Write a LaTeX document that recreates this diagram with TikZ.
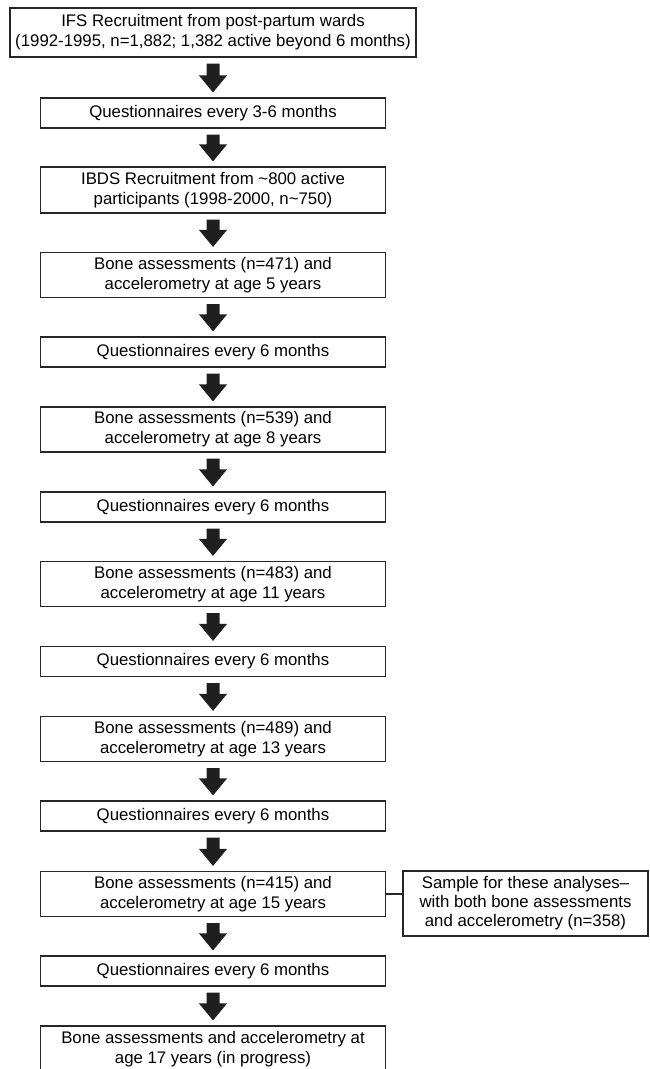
\documentclass[tikz,border=0pt]{standalone}
\usepackage{fontspec}
\setmainfont{Liberation Sans}
\usetikzlibrary{calc}

\begin{document}
\begin{tikzpicture}[x=1pt,y=1pt,
    box/.style={draw=black!85,line width=1.1pt,inner sep=0pt,align=center,minimum width=345pt,minimum height=45pt,font=\fontsize{16.8}{20}\selectfont},
    onebox/.style={box,minimum height=30pt},
    bigarrow/.style={fill=black!88}]
    \useasboundingbox (0,0) rectangle (649,-1069);
    \node[box,minimum width=406pt,minimum height=49pt] (top) at (213,-32.5) {IFS Recruitment from post-partum wards\\(1992-1995, n=1,882; 1,382 active beyond 6 months)};
    \node[onebox] (q1) at (213,-113) {Questionnaires every 3-6 months};
    \node[box,minimum height=46pt] (ibds) at (213,-190) {IBDS Recruitment from \textasciitilde800 active\\participants (1998-2000, n\textasciitilde750)};
    \node[box] (b5) at (213,-275) {Bone assessments (n=471) and\\accelerometry at age 5 years};
    \node[onebox] (q2) at (213,-352) {Questionnaires every 6 months};
    \node[box] (b8) at (213,-429.5) {Bone assessments (n=539) and\\accelerometry at age 8 years};
    \node[onebox] (q3) at (213,-507) {Questionnaires every 6 months};
    \node[box] (b11) at (213,-584) {Bone assessments (n=483) and\\accelerometry at age 11 years};
    \node[onebox] (q4) at (213,-661.5) {Questionnaires every 6 months};
    \node[box] (b13) at (213,-739) {Bone assessments (n=489) and\\accelerometry at age 13 years};
    \node[onebox] (q5) at (213,-816) {Questionnaires every 6 months};
    \node[box] (b15) at (213,-894) {Bone assessments (n=415) and\\accelerometry at age 15 years};
    \node[onebox] (q6) at (213,-971) {Questionnaires every 6 months};
    \node[box,minimum height=46pt] (b17) at (213,-1049) {Bone assessments and accelerometry at\\age 17 years (in progress)};
    \node[box,minimum width=245pt,minimum height=65pt,font=\fontsize{16.8}{19}\selectfont] (side) at (525.5,-903.5) {Sample for these analyses--\\with both bone assessments\\and accelerometry (n=358)};
    % block arrows from box to box
    \foreach \a/\b in {top/q1,q1/ibds,ibds/b5,b5/q2,q2/b8,b8/q3,q3/b11,b11/q4,q4/b13,b13/q5,q5/b15,b15/q6,q6/b17}
        \fill[bigarrow] ($(\a.south)+(-6.5,-6)$) -- ++(13,0) -- ($(\b.north)+(6.5,22)$) -- ++(7.5,0)
            -- ($(\b.north)+(0,5)$) -- ($(\b.north)+(-14,22)$) -- ++(7.5,0) -- cycle;
    \draw[black!85,line width=1.1pt] (b15.east) -- (b15.east -| side.west);
\end{tikzpicture}
\end{document}
